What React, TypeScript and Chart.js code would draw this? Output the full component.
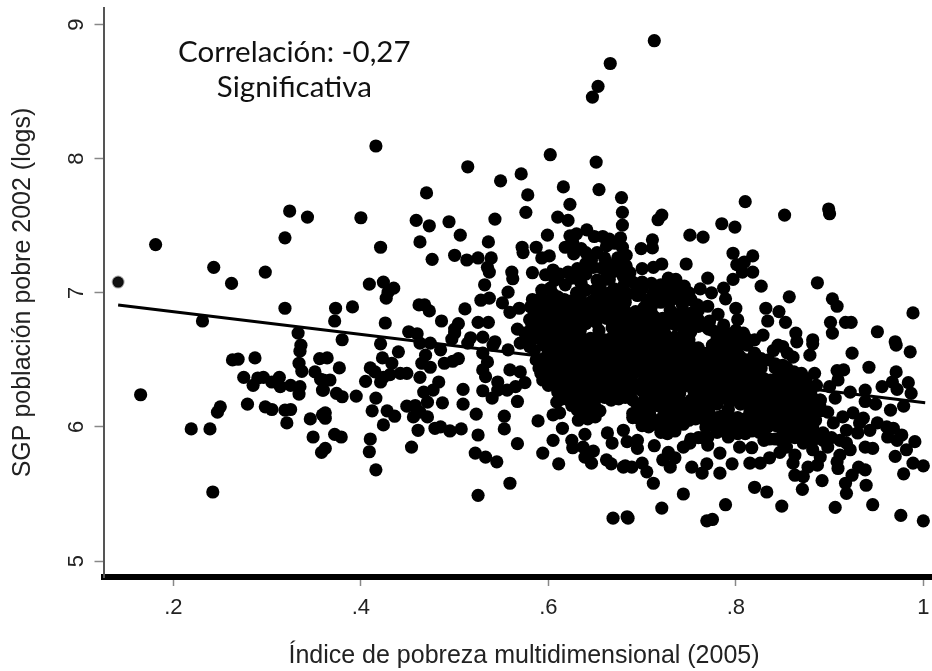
import React, { useEffect, useRef } from "react";
import { Chart, registerables } from "chart.js";

Chart.register(...registerables);

type P = [number, number];

const xTitle = "Índice de pobreza multidimensional (2005)";
const yTitle = "SGP población pobre 2002 (logs)";
const noteLines = ["Correlación: -0,27", "Significativa"];
const noteAnchor: P[] = [[0.329, 8.79], [0.329, 8.53]];

const softPoint: P[] = [[0.141, 7.08]];
const fitLine: P[] = [[0.141, 6.91], [1.002, 6.18]];

const topPoints: P[] = [
  [0.713, 8.88], [0.666, 8.71], [0.653, 8.54], [0.647, 8.46], [0.416, 8.095], [0.514, 7.94], [0.602, 8.03], [0.651, 7.975],
  [0.571, 7.887], [0.549, 7.835], [0.47, 7.745], [0.616, 7.79], [0.654, 7.77], [0.678, 7.71], [0.578, 7.73], [0.576, 7.6],
  [0.623, 7.66], [0.4, 7.56], [0.459, 7.54], [0.473, 7.5], [0.494, 7.53], [0.543, 7.55], [0.61, 7.565], [0.621, 7.54],
  [0.679, 7.6], [0.679, 7.505], [0.506, 7.43], [0.599, 7.43], [0.463, 7.38], [0.536, 7.38], [0.421, 7.34], [0.476, 7.25],
  [0.572, 7.34], [0.573, 7.3], [0.587, 7.34], [0.593, 7.26], [0.601, 7.275], [0.5, 7.28], [0.513, 7.245], [0.525, 7.26],
  [0.539, 7.26], [0.535, 7.19], [0.537, 7.155], [0.623, 7.425], [0.618, 7.34], [0.626, 7.38], [0.627, 7.29], [0.641, 7.47],
  [0.649, 7.42], [0.662, 7.35], [0.677, 7.41], [0.679, 7.34], [0.674, 7.26], [0.646, 7.245], [0.648, 7.19], [0.657, 7.185],
  [0.666, 7.155], [0.652, 7.095], [0.681, 7.13], [0.561, 7.155], [0.562, 7.105], [0.583, 7.15], [0.597, 7.135], [0.621, 7.155],
  [0.631, 7.18], [0.607, 7.095], [0.618, 7.06], [0.593, 7.02], [0.602, 7.035], [0.557, 7.005], [0.532, 7.06], [0.528, 6.945],
  [0.537, 6.96], [0.409, 7.065], [0.424, 7.08], [0.435, 7.035], [0.429, 7.005], [0.427, 6.96], [0.373, 6.885], [0.372, 6.79],
  [0.391, 6.895], [0.426, 6.775], [0.462, 6.91], [0.468, 6.91], [0.473, 6.865], [0.486, 6.79], [0.511, 6.88], [0.504, 6.77],
  [0.5, 6.73], [0.525, 6.78], [0.536, 6.78], [0.551, 6.925], [0.559, 6.855], [0.569, 6.885], [0.581, 6.895], [0.451, 6.71],
  [0.46, 6.695], [0.38, 6.65], [0.567, 6.73], [0.575, 6.7], [0.517, 6.665], [0.53, 6.67], [0.543, 6.635],
];

const leftPoints: P[] = [
  [0.181, 7.36], [0.243, 7.19], [0.262, 7.07], [0.298, 7.155], [0.319, 7.41], [0.324, 7.61], [0.343, 7.565], [0.319, 6.885],
  [0.231, 6.79], [0.165, 6.24], [0.219, 5.985], [0.239, 5.985], [0.242, 5.515], [0.247, 6.11], [0.25, 6.15], [0.263, 6.5],
  [0.269, 6.505], [0.287, 6.515], [0.275, 6.37], [0.285, 6.31], [0.29, 6.365], [0.296, 6.37], [0.305, 6.335], [0.313, 6.37],
  [0.314, 6.3], [0.325, 6.31], [0.335, 6.3], [0.334, 6.245], [0.279, 6.17], [0.298, 6.15], [0.305, 6.13], [0.319, 6.125],
  [0.325, 6.13], [0.321, 6.03], [0.346, 6.06], [0.349, 5.925], [0.358, 5.81], [0.359, 6.09], [0.333, 6.7], [0.336, 6.61],
  [0.335, 6.565], [0.334, 6.475], [0.337, 6.415], [0.351, 6.41], [0.356, 6.51], [0.357, 6.355], [0.359, 6.275],
];

const midPoints: P[] = [
  [0.421, 6.62], [0.44, 6.56], [0.463, 6.625], [0.474, 6.625], [0.485, 6.575], [0.469, 6.535], [0.465, 6.475], [0.474, 6.445],
  [0.489, 6.475], [0.498, 6.49], [0.504, 6.51], [0.497, 6.655], [0.5, 6.7], [0.514, 6.625], [0.541, 6.61], [0.557, 6.575],
  [0.57, 6.625], [0.53, 6.55], [0.535, 6.485], [0.53, 6.425], [0.533, 6.375], [0.546, 6.335], [0.559, 6.425], [0.57, 6.41],
  [0.575, 6.33], [0.565, 6.3], [0.567, 6.19], [0.556, 6.275], [0.54, 6.215], [0.53, 6.27], [0.546, 6.275], [0.509, 6.28],
  [0.509, 6.17], [0.523, 6.095], [0.525, 5.94], [0.553, 6.08], [0.553, 5.985], [0.567, 5.875], [0.589, 6.045], [0.522, 5.805],
  [0.533, 5.775], [0.545, 5.74], [0.559, 5.58], [0.525, 5.49], [0.669, 5.32], [0.684, 5.33], [0.454, 5.85], [0.479, 5.99],
  [0.485, 6.0], [0.495, 5.97], [0.507, 5.985], [0.461, 5.975], [0.424, 6.015], [0.436, 6.08], [0.428, 6.12], [0.412, 6.12],
  [0.416, 6.215], [0.395, 6.23], [0.38, 6.225], [0.374, 6.25], [0.362, 6.105], [0.362, 6.065], [0.372, 5.945], [0.379, 5.925],
  [0.41, 5.91], [0.409, 5.815], [0.416, 5.68], [0.362, 5.84], [0.377, 6.44], [0.364, 6.515], [0.367, 6.35], [0.36, 6.35],
  [0.36, 6.275], [0.41, 6.44], [0.423, 6.515], [0.433, 6.475], [0.405, 6.34], [0.415, 6.41], [0.424, 6.37], [0.431, 6.39],
  [0.421, 6.335], [0.442, 6.4], [0.449, 6.4], [0.463, 6.37], [0.483, 6.335], [0.467, 6.26], [0.477, 6.275], [0.487, 6.18],
  [0.471, 6.185], [0.449, 6.155], [0.458, 6.16], [0.456, 6.075], [0.471, 6.075], [0.463, 6.11], [0.605, 5.9], [0.615, 5.99],
  [0.594, 5.805], [0.611, 5.725], [0.625, 5.9], [0.639, 5.945], [0.626, 5.845], [0.637, 5.85], [0.648, 5.82], [0.639, 5.775],
  [0.646, 5.73], [0.662, 5.755], [0.667, 5.725], [0.663, 5.955], [0.668, 5.88], [0.682, 5.71], [0.68, 5.975], [0.684, 5.89],
  [0.605, 6.09], [0.612, 6.105], [0.632, 6.05], [0.65, 6.075], [0.609, 6.185], [0.616, 6.225], [0.631, 6.125], [0.645, 6.125],
  [0.612, 6.315], [0.594, 6.35], [0.602, 6.375],
];

const upperRightPoints: P[] = [
  [0.81, 7.68], [0.852, 7.58], [0.899, 7.625], [0.9, 7.59], [0.721, 7.58], [0.717, 7.545], [0.785, 7.515], [0.799, 7.49],
  [0.751, 7.43], [0.765, 7.415], [0.711, 7.395], [0.711, 7.335], [0.699, 7.33], [0.797, 7.295], [0.818, 7.275], [0.801, 7.21],
  [0.809, 7.23], [0.818, 7.155], [0.807, 7.155], [0.747, 7.215], [0.721, 7.215], [0.712, 7.19], [0.7, 7.18], [0.797, 7.1],
  [0.77, 7.11], [0.728, 7.11], [0.736, 7.1], [0.827, 7.05], [0.887, 7.075], [0.857, 6.97], [0.762, 7.03], [0.774, 7.0],
  [0.787, 7.035], [0.789, 6.955], [0.903, 6.955], [0.908, 6.9], [0.989, 6.85], [0.8, 6.885], [0.832, 6.885], [0.846, 6.86],
  [0.834, 6.79], [0.853, 6.78], [0.901, 6.78], [0.917, 6.78], [0.923, 6.78], [0.951, 6.71], [0.903, 6.7], [0.864, 6.7],
  [0.802, 6.8], [0.781, 6.84], [0.771, 6.73], [0.787, 6.76], [0.759, 6.91], [0.758, 6.82], [0.74, 6.97], [0.743, 6.91],
  [0.724, 7.0], [0.712, 7.0], [0.695, 7.02], [0.705, 6.945], [0.682, 6.93], [0.687, 7.15], [0.68, 7.12], [0.808, 6.7],
  [0.829, 6.685], [0.882, 6.65], [0.97, 6.635],
];

const lowerRightPoints: P[] = [
  [0.971, 6.61], [0.986, 6.56], [0.924, 6.55], [0.942, 6.445], [0.971, 6.41], [0.908, 6.42], [0.915, 6.425], [0.909, 6.35],
  [0.984, 6.33], [0.967, 6.335], [0.956, 6.3], [0.987, 6.25], [0.972, 6.28], [0.938, 6.275], [0.922, 6.26], [0.9, 6.3],
  [0.906, 6.215], [0.938, 6.19], [0.949, 6.17], [0.965, 6.125], [0.979, 6.155], [0.882, 6.62], [0.879, 6.535], [0.884, 6.4],
  [0.865, 6.635], [0.861, 6.52], [0.854, 6.445], [0.847, 6.4], [0.82, 6.55], [0.818, 6.475], [0.823, 6.4], [0.868, 6.335],
  [0.876, 6.25], [0.89, 6.2], [0.898, 6.11], [0.914, 6.075], [0.936, 6.065], [0.951, 6.03], [0.961, 6.0], [0.968, 5.99],
  [0.962, 5.925], [0.977, 5.94], [0.972, 5.9], [0.991, 5.89], [0.982, 5.83], [0.97, 5.78], [0.989, 5.73], [1.0, 5.71],
  [0.979, 5.65], [0.976, 5.34], [1.0, 5.3], [0.946, 5.42], [0.906, 5.4], [0.849, 5.41], [0.833, 5.515], [0.82, 5.55],
  [0.871, 5.535], [0.892, 5.6], [0.918, 5.505], [0.917, 5.58], [0.939, 5.565], [0.938, 5.68], [0.931, 5.7], [0.924, 5.64],
  [0.909, 5.69], [0.908, 5.74], [0.887, 5.715], [0.877, 5.7], [0.872, 5.63], [0.863, 5.64], [0.861, 5.73], [0.863, 5.79],
  [0.946, 5.84], [0.938, 5.85], [0.922, 5.83], [0.911, 5.79], [0.918, 5.88], [0.93, 5.955], [0.911, 5.9], [0.898, 5.85],
  [0.89, 5.775], [0.882, 5.83], [0.872, 5.88], [0.854, 5.85], [0.847, 5.81], [0.836, 5.77], [0.826, 5.73], [0.815, 5.73],
  [0.817, 5.845], [0.804, 5.85], [0.796, 5.725], [0.783, 5.655], [0.789, 5.42], [0.775, 5.31], [0.769, 5.3], [0.744, 5.5],
  [0.721, 5.395], [0.685, 5.32], [0.712, 5.58], [0.705, 5.665], [0.7, 5.73], [0.689, 5.7], [0.68, 5.7], [0.695, 5.84],
  [0.695, 5.9], [0.713, 5.86], [0.722, 5.755], [0.73, 5.7], [0.735, 5.77], [0.728, 5.81], [0.744, 5.85], [0.751, 5.88],
  [0.764, 5.92], [0.77, 5.865], [0.783, 5.805], [0.753, 5.7], [0.764, 5.655], [0.769, 5.725], [0.792, 5.925], [0.829, 5.98],
  [0.84, 6.03], [0.85, 5.925], [0.861, 5.975], [0.879, 5.925], [0.893, 5.955], [0.904, 6.03], [0.918, 5.975], [0.932, 6.03],
  [0.943, 5.975], [0.925, 6.105],
];

const coreUpper: P[] = [
  [0.603, 6.96], [0.617, 6.95], [0.634, 6.97], [0.647, 6.94], [0.661, 6.96], [0.676, 6.95],
  [0.59, 6.91], [0.605, 6.9], [0.62, 6.92], [0.635, 6.9], [0.65, 6.91], [0.665, 6.92], [0.68, 6.9], [0.702, 6.89],
  [0.596, 6.86], [0.611, 6.87], [0.626, 6.85], [0.641, 6.87], [0.654, 6.86], [0.671, 6.87], [0.684, 6.85], [0.702, 6.86], [0.746, 6.85],
  [0.601, 6.81], [0.614, 6.8], [0.632, 6.82], [0.644, 6.8], [0.662, 6.81], [0.674, 6.8], [0.691, 6.82], [0.704, 6.8], [0.722, 6.81], [0.734, 6.8], [0.751, 6.82],
  [0.59, 6.76], [0.606, 6.77], [0.62, 6.75], [0.632, 6.77], [0.651, 6.78], [0.672, 6.76], [0.685, 6.75], [0.7, 6.77], [0.715, 6.76], [0.728, 6.77], [0.745, 6.76], [0.76, 6.75],
  [0.591, 6.71], [0.606, 6.72], [0.621, 6.7], [0.634, 6.72], [0.68, 6.7], [0.694, 6.72], [0.712, 6.71], [0.724, 6.7], [0.752, 6.71], [0.782, 6.71],
  [0.586, 6.66], [0.601, 6.65], [0.614, 6.67], [0.628, 6.65], [0.645, 6.66], [0.66, 6.65], [0.674, 6.67], [0.69, 6.65], [0.705, 6.66], [0.72, 6.65], [0.735, 6.67], [0.75, 6.65], [0.78, 6.66], [0.795, 6.65], [0.81, 6.67],
  [0.595, 6.61], [0.61, 6.6], [0.625, 6.62], [0.64, 6.6], [0.655, 6.61], [0.67, 6.6], [0.685, 6.62], [0.7, 6.6], [0.715, 6.61], [0.73, 6.6], [0.745, 6.62], [0.76, 6.59], [0.775, 6.61], [0.79, 6.6], [0.805, 6.62], [0.845, 6.61],
  [0.6, 6.56], [0.615, 6.55], [0.63, 6.57], [0.645, 6.55], [0.66, 6.56], [0.675, 6.55], [0.69, 6.57], [0.705, 6.55], [0.72, 6.56], [0.735, 6.55], [0.75, 6.57], [0.765, 6.55], [0.78, 6.56], [0.795, 6.55], [0.84, 6.57], [0.855, 6.55],
];

const coreLower: P[] = [
  [0.595, 6.51], [0.61, 6.52], [0.625, 6.5], [0.64, 6.52], [0.655, 6.51], [0.67, 6.5], [0.685, 6.52], [0.7, 6.5], [0.715, 6.51], [0.73, 6.52], [0.745, 6.5], [0.76, 6.52], [0.775, 6.51], [0.79, 6.5], [0.805, 6.52], [0.82, 6.51], [0.835, 6.5],
  [0.6, 6.46], [0.615, 6.47], [0.63, 6.45], [0.645, 6.47], [0.675, 6.46], [0.69, 6.47], [0.705, 6.45], [0.72, 6.47], [0.735, 6.46], [0.75, 6.45], [0.765, 6.47], [0.78, 6.46], [0.795, 6.45], [0.81, 6.47], [0.85, 6.46],
  [0.605, 6.41], [0.62, 6.4], [0.635, 6.42], [0.648, 6.4], [0.68, 6.41], [0.695, 6.42], [0.71, 6.4], [0.725, 6.41], [0.74, 6.42], [0.755, 6.4], [0.77, 6.41], [0.785, 6.42], [0.8, 6.4], [0.815, 6.41], [0.855, 6.42], [0.87, 6.4],
  [0.6, 6.36], [0.615, 6.37], [0.63, 6.35], [0.645, 6.37], [0.66, 6.36], [0.675, 6.35], [0.71, 6.37], [0.725, 6.35], [0.74, 6.36], [0.755, 6.37], [0.77, 6.35], [0.785, 6.36], [0.8, 6.37], [0.815, 6.35], [0.83, 6.36], [0.845, 6.37], [0.86, 6.35], [0.875, 6.36],
  [0.6, 6.31], [0.614, 6.32], [0.63, 6.3], [0.645, 6.32], [0.66, 6.31], [0.675, 6.3], [0.714, 6.32], [0.732, 6.31], [0.744, 6.3], [0.762, 6.32], [0.774, 6.31], [0.792, 6.3], [0.804, 6.32], [0.84, 6.31], [0.852, 6.3], [0.871, 6.32], [0.886, 6.31],
  [0.61, 6.26], [0.625, 6.27], [0.64, 6.25], [0.655, 6.27], [0.67, 6.26], [0.68, 6.25], [0.715, 6.27], [0.73, 6.26], [0.74, 6.25], [0.775, 6.27], [0.79, 6.26], [0.805, 6.25], [0.85, 6.27], [0.865, 6.26], [0.88, 6.25],
  [0.615, 6.21], [0.63, 6.22], [0.645, 6.2], [0.66, 6.22], [0.675, 6.21], [0.69, 6.2], [0.71, 6.22], [0.725, 6.21], [0.74, 6.2], [0.77, 6.21], [0.785, 6.22], [0.8, 6.2], [0.815, 6.21], [0.83, 6.22], [0.845, 6.2], [0.86, 6.21], [0.875, 6.22], [0.89, 6.2],
  [0.625, 6.16], [0.64, 6.17], [0.65, 6.15], [0.695, 6.16], [0.71, 6.17], [0.725, 6.15], [0.74, 6.16], [0.755, 6.17], [0.77, 6.15], [0.815, 6.16], [0.83, 6.17], [0.845, 6.15], [0.86, 6.16], [0.875, 6.17], [0.89, 6.15],
  [0.64, 6.11], [0.655, 6.12], [0.69, 6.1], [0.7, 6.12], [0.74, 6.11], [0.755, 6.1], [0.765, 6.12], [0.815, 6.11], [0.83, 6.1], [0.845, 6.12], [0.86, 6.11], [0.875, 6.1], [0.89, 6.12],
  [0.642, 6.06], [0.69, 6.07], [0.705, 6.05], [0.72, 6.06], [0.735, 6.07], [0.75, 6.05], [0.765, 6.06], [0.78, 6.07], [0.795, 6.05], [0.81, 6.06], [0.825, 6.07], [0.84, 6.05], [0.855, 6.06], [0.87, 6.07], [0.885, 6.05],
  [0.7, 6.01], [0.714, 6.02], [0.732, 6.0], [0.744, 6.02], [0.775, 6.01], [0.79, 6.0], [0.805, 6.02], [0.82, 6.01], [0.834, 6.0], [0.852, 6.02], [0.864, 6.01], [0.882, 6.0],
  [0.72, 5.96], [0.735, 5.97], [0.78, 5.96], [0.795, 5.97], [0.81, 5.95], [0.825, 5.96], [0.85, 5.97], [0.865, 5.95], [0.88, 5.96],
  [0.752, 5.91], [0.77, 5.92], [0.83, 5.9], [0.842, 5.91], [0.854, 5.92], [0.872, 5.9], [0.884, 5.91], [0.902, 5.92],
];

const coreFillUpper: P[] = [
  [0.61, 6.97], [0.625, 6.94], [0.654, 6.96], [0.668, 6.94],
  [0.597, 6.92], [0.612, 6.9], [0.627, 6.89], [0.642, 6.92], [0.657, 6.9], [0.672, 6.91],
  [0.604, 6.85], [0.618, 6.86], [0.633, 6.87], [0.648, 6.85], [0.662, 6.86], [0.677, 6.84], [0.693, 6.86], [0.71, 6.85], [0.735, 6.84], [0.755, 6.86],
  [0.607, 6.82], [0.622, 6.8], [0.638, 6.81], [0.652, 6.82], [0.668, 6.8], [0.682, 6.81], [0.697, 6.8], [0.713, 6.82], [0.728, 6.8], [0.742, 6.81], [0.76, 6.8], [0.772, 6.79],
  [0.598, 6.77], [0.613, 6.75], [0.626, 6.76], [0.64, 6.77], [0.678, 6.76], [0.692, 6.75], [0.707, 6.77], [0.721, 6.75], [0.736, 6.76], [0.752, 6.77], [0.768, 6.75],
  [0.598, 6.71], [0.613, 6.7], [0.627, 6.71], [0.687, 6.72], [0.703, 6.7], [0.718, 6.71], [0.745, 6.7], [0.775, 6.72], [0.79, 6.7], [0.8, 6.72],
  [0.593, 6.65], [0.607, 6.66], [0.621, 6.64], [0.636, 6.66], [0.652, 6.65], [0.667, 6.66], [0.682, 6.64], [0.697, 6.66], [0.712, 6.65], [0.727, 6.66], [0.742, 6.64], [0.788, 6.66], [0.802, 6.64], [0.82, 6.65],
  [0.602, 6.6], [0.617, 6.62], [0.632, 6.6], [0.647, 6.61], [0.662, 6.62], [0.677, 6.6], [0.692, 6.61], [0.707, 6.62], [0.722, 6.6], [0.737, 6.61], [0.752, 6.6], [0.783, 6.62], [0.797, 6.6], [0.812, 6.61], [0.85, 6.6],
  [0.607, 6.57], [0.622, 6.55], [0.637, 6.56], [0.652, 6.57], [0.667, 6.55], [0.682, 6.56], [0.697, 6.57], [0.712, 6.55], [0.727, 6.56], [0.742, 6.57], [0.757, 6.55], [0.772, 6.56], [0.787, 6.57], [0.802, 6.55],
];

const coreFillLower: P[] = [
  [0.602, 6.52], [0.617, 6.5], [0.632, 6.51], [0.647, 6.5], [0.662, 6.52], [0.677, 6.51], [0.692, 6.5], [0.707, 6.52], [0.722, 6.51], [0.737, 6.5], [0.752, 6.52], [0.767, 6.5], [0.782, 6.51], [0.797, 6.52], [0.812, 6.5], [0.827, 6.51],
  [0.607, 6.45], [0.622, 6.46], [0.637, 6.47], [0.683, 6.45], [0.697, 6.46], [0.712, 6.47], [0.727, 6.45], [0.742, 6.46], [0.757, 6.47], [0.772, 6.45], [0.787, 6.46], [0.802, 6.47], [0.818, 6.46], [0.842, 6.47],
  [0.612, 6.41], [0.627, 6.42], [0.642, 6.41], [0.672, 6.4], [0.687, 6.42], [0.702, 6.41], [0.717, 6.42], [0.732, 6.4], [0.747, 6.41], [0.762, 6.42], [0.777, 6.4], [0.792, 6.41], [0.807, 6.42], [0.822, 6.4], [0.862, 6.41],
  [0.607, 6.35], [0.622, 6.36], [0.637, 6.37], [0.652, 6.35], [0.667, 6.37], [0.682, 6.36], [0.702, 6.35], [0.717, 6.36], [0.732, 6.37], [0.747, 6.35], [0.762, 6.36], [0.777, 6.37], [0.792, 6.35], [0.807, 6.36], [0.822, 6.37], [0.837, 6.35], [0.852, 6.36], [0.867, 6.37],
  [0.607, 6.32], [0.622, 6.3], [0.637, 6.31], [0.652, 6.3], [0.667, 6.32], [0.683, 6.31], [0.703, 6.3], [0.722, 6.32], [0.738, 6.3], [0.753, 6.31], [0.768, 6.3], [0.783, 6.32], [0.798, 6.31], [0.813, 6.3], [0.838, 6.32], [0.845, 6.3], [0.861, 6.31], [0.878, 6.3],
  [0.617, 6.25], [0.632, 6.26], [0.647, 6.27], [0.662, 6.25], [0.675, 6.27], [0.688, 6.26], [0.705, 6.25], [0.722, 6.27], [0.735, 6.25], [0.765, 6.26], [0.782, 6.25], [0.797, 6.27], [0.812, 6.26], [0.84, 6.25], [0.857, 6.26], [0.872, 6.27],
  [0.622, 6.2], [0.637, 6.21], [0.652, 6.22], [0.667, 6.2], [0.682, 6.22], [0.703, 6.21], [0.717, 6.2], [0.732, 6.22], [0.762, 6.2], [0.777, 6.21], [0.792, 6.2], [0.807, 6.22], [0.822, 6.2], [0.837, 6.21], [0.852, 6.22], [0.867, 6.2], [0.882, 6.21],
  [0.632, 6.15], [0.645, 6.17], [0.702, 6.15], [0.717, 6.16], [0.732, 6.17], [0.747, 6.15], [0.762, 6.16], [0.822, 6.15], [0.837, 6.16], [0.852, 6.17], [0.867, 6.15], [0.882, 6.16],
  [0.647, 6.1], [0.695, 6.11], [0.708, 6.1], [0.732, 6.12], [0.747, 6.1], [0.771, 6.11], [0.822, 6.12], [0.837, 6.11], [0.852, 6.1], [0.867, 6.12], [0.882, 6.11],
  [0.697, 6.06], [0.712, 6.05], [0.727, 6.07], [0.742, 6.05], [0.757, 6.06], [0.772, 6.05], [0.787, 6.06], [0.802, 6.07], [0.817, 6.05], [0.832, 6.06], [0.847, 6.07], [0.862, 6.05], [0.877, 6.06],
  [0.707, 6.0], [0.722, 6.01], [0.738, 6.02], [0.768, 6.0], [0.783, 6.02], [0.797, 6.01], [0.812, 6.0], [0.827, 6.02], [0.843, 6.01], [0.858, 6.0], [0.873, 6.02],
  [0.727, 5.95], [0.787, 5.97], [0.802, 5.95], [0.817, 5.97], [0.857, 5.96], [0.872, 5.95],
  [0.76, 5.92], [0.836, 5.91], [0.848, 5.9], [0.863, 5.92], [0.878, 5.91], [0.893, 5.9],
];

const coreGapPoints: P[] = [
  [0.654, 6.72], [0.668, 6.74], [0.672, 6.7], [0.655, 6.46], [0.665, 6.47], [0.655, 6.41], [0.667, 6.42], [0.695, 6.3],
  [0.69, 6.39], [0.7, 6.27], [0.69, 6.33], [0.792, 6.13], [0.78, 6.17], [0.805, 6.17], [0.785, 6.08], [0.825, 6.31],
  [0.82, 6.26], [0.832, 6.26], [0.835, 6.3], [0.755, 6.27], [0.752, 6.2], [0.79, 6.28], [0.77, 6.28], [0.755, 6.13],
  [0.72, 6.15], [0.845, 6.33], [0.83, 6.33], [0.842, 6.44], [0.827, 6.44],
];

const coreTopPoints: P[] = [
  [0.632, 7.1], [0.64, 7.14], [0.655, 7.05], [0.665, 7.1], [0.67, 7.03], [0.68, 7.05], [0.64, 7.3], [0.652, 7.3],
  [0.66, 7.26], [0.665, 7.21], [0.67, 7.16], [0.64, 7.22], [0.635, 7.07], [0.625, 7.11], [0.612, 7.14], [0.605, 7.17],
  [0.675, 7.2], [0.683, 7.2], [0.683, 7.28], [0.658, 7.42], [0.665, 7.4], [0.671, 7.37], [0.635, 7.33], [0.63, 7.44],
  [0.66, 7.1], [0.65, 7.02], [0.605, 6.99], [0.63, 7.0], [0.64, 7.02], [0.655, 7.0], [0.665, 7.0], [0.675, 7.0],
  [0.685, 6.99], [0.695, 6.98], [0.69, 7.08], [0.7, 7.08], [0.71, 7.07], [0.72, 7.06], [0.73, 7.05], [0.74, 7.04],
  [0.75, 7.0], [0.745, 7.05], [0.735, 7.0], [0.7, 7.03], [0.715, 6.98], [0.73, 6.94], [0.752, 6.95], [0.76, 6.87],
  [0.72, 6.93], [0.71, 6.9], [0.73, 6.87], [0.77, 6.9], [0.735, 6.96],
];

const coreEdgePoints: P[] = [
  [0.585, 6.85], [0.58, 6.8], [0.59, 6.8], [0.582, 6.74], [0.58, 6.63], [0.585, 6.57], [0.587, 6.5], [0.59, 6.44],
  [0.592, 6.4], [0.58, 6.6], [0.583, 6.95], [0.592, 6.96],
];

const allPoints: P[] = [
  ...topPoints, ...leftPoints, ...midPoints, ...upperRightPoints, ...lowerRightPoints,
  ...coreUpper, ...coreLower, ...coreFillUpper, ...coreFillLower, ...coreGapPoints, ...coreTopPoints, ...coreEdgePoints,
];

const xTicks = [0.2, 0.4, 0.6, 0.8, 1];
const yTicks = [5, 6, 7, 8, 9];

const toXY = (p: P[]) => p.map(([x, y]) => ({ x, y }));
const axisFont = "'Liberation Sans', Arial, sans-serif";

const notePlugin = {
  id: "note",
  afterDatasetsDraw(chart: any) {
    const { ctx, scales } = chart;
    ctx.save();
    ctx.fillStyle = "#111";
    ctx.font = "29.5px Lato, sans-serif";
    ctx.textAlign = "center";
    ctx.textBaseline = "middle";
    noteLines.forEach((t, i) => {
      ctx.fillText(t, scales.x.getPixelForValue(noteAnchor[i][0]), scales.y.getPixelForValue(noteAnchor[i][1]));
    });
    ctx.restore();
  },
};

const noMargins = (s: any) => {
  s.paddingLeft = 0;
  s.paddingRight = 0;
  s.paddingTop = 0;
  s.paddingBottom = 0;
};

export default function App() {
  const ref = useRef<HTMLCanvasElement>(null);
  useEffect(() => {
    const chart = new Chart(ref.current!, {
      type: "scatter",
      data: {
        datasets: [
          { label: "Ajuste", data: toXY(fitLine), showLine: true, borderColor: "#000", borderWidth: 3, pointRadius: 0, order: 0 },
          { label: "SGP", data: toXY(allPoints), backgroundColor: "#000", borderWidth: 0, pointRadius: 6.6, order: 1 },
          { label: "SGP atípico", data: toXY(softPoint), backgroundColor: "#111", borderColor: "rgba(0,0,0,0.35)", borderWidth: 2, pointRadius: 5.5, order: 1 },
        ],
      },
      options: {
        animation: false,
        responsive: false,
        layout: { padding: { top: 8, left: 0, right: 0, bottom: 0 } },
        plugins: { legend: { display: false }, tooltip: { enabled: false } },
        scales: {
          x: {
            type: "linear",
            min: 0.1254,
            max: 1.0226,
            afterFit: (s: any) => { s.height = 94; noMargins(s); },
            afterBuildTicks: (s: any) => { s.ticks = xTicks.map((value) => ({ value })); },
            border: { color: "#000", width: 6 },
            grid: { drawOnChartArea: false, color: "#888", tickColor: "#888", tickLength: 9, tickWidth: 1.5 },
            ticks: {
              maxRotation: 0,
              padding: 9,
              color: "#222",
              font: { family: axisFont, size: 22 },
              callback: (v: any) => (v === 1 ? "1" : String(v).replace(/^0/, "")),
            },
            title: { display: true, text: xTitle, color: "#222", font: { family: axisFont, size: 25 }, padding: { top: 20, bottom: 0 } },
          },
          y: {
            type: "linear",
            min: 4.881,
            max: 9.124,
            afterFit: (s: any) => { s.width = 103.5; noMargins(s); },
            afterBuildTicks: (s: any) => { s.ticks = yTicks.map((value) => ({ value })); },
            border: { color: "#555", width: 2 },
            grid: { drawOnChartArea: false, color: "#888", tickColor: "#888", tickLength: 9, tickWidth: 1.5 },
            ticks: {
              minRotation: 90,
              maxRotation: 90,
              padding: 11,
              crossAlign: "center",
              color: "#222",
              font: { family: axisFont, size: 22 },
            },
            title: { display: true, text: yTitle, color: "#222", font: { family: axisFont, size: 25 }, padding: { top: 8, bottom: 0 } },
          },
        },
      },
      plugins: [notePlugin],
    } as any);
    return () => chart.destroy();
  }, []);
  return (
    <div style={{ position: "fixed", left: 0, top: 0, width: 932, height: 671, overflow: "hidden", background: "#fff" }}>
      <canvas ref={ref} width={952} height={671} style={{ display: "block" }} />
    </div>
  );
}
